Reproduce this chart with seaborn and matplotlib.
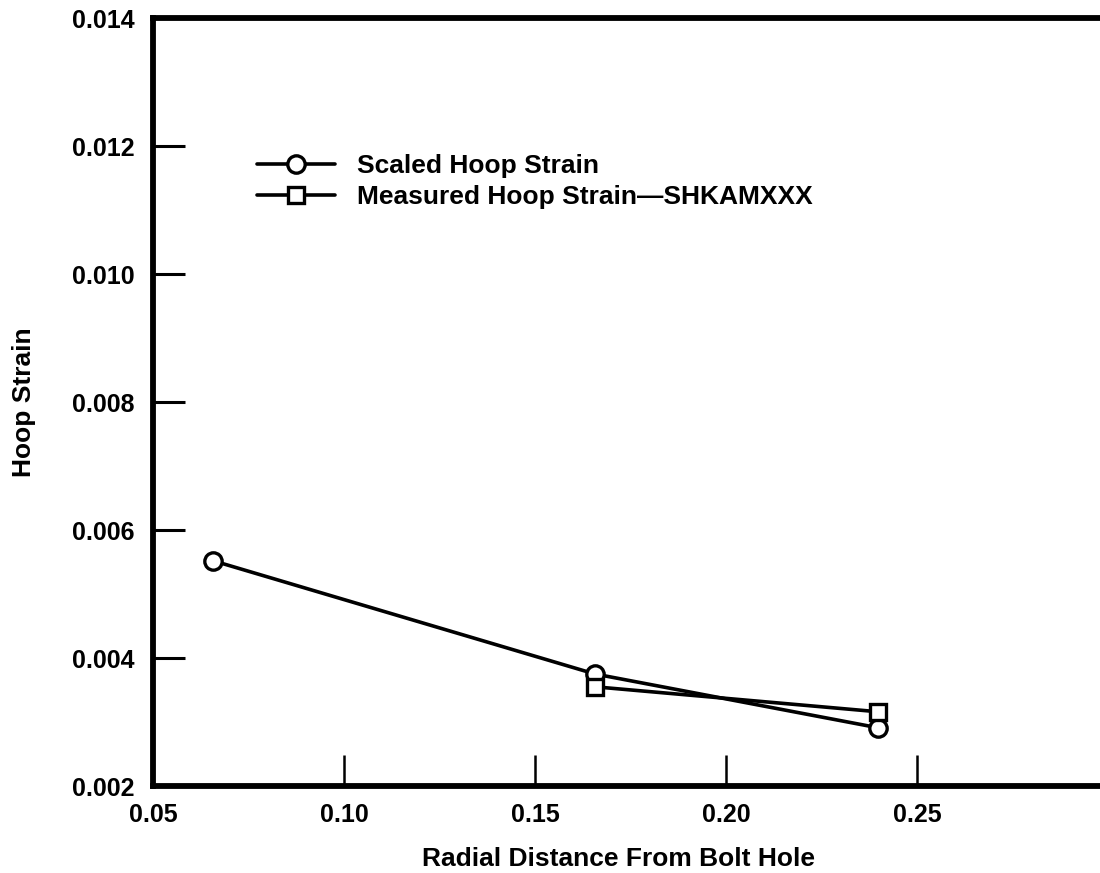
import matplotlib
matplotlib.use("Agg")
import matplotlib.pyplot as plt
import seaborn as sns
import pandas as pd

# ---- data ----
scaled_x = [0.0657, 0.1657, 0.2398]
scaled_y = [0.00552, 0.00375, 0.00291]
measured_x = [0.1657, 0.2398]
measured_y = [0.00355, 0.00316]
series_labels = ["Scaled Hoop Strain", "Measured Hoop Strain\u2014SHKAMXXX"]
x_ticks = [0.05, 0.10, 0.15, 0.20, 0.25]
y_ticks = [0.002, 0.004, 0.006, 0.008, 0.010, 0.012, 0.014]
x_label = "Radial Distance From Bolt Hole"
y_label = "Hoop Strain"

sns.set_style("ticks")
plt.rcParams["font.family"] = ["Liberation Sans", "DejaVu Sans"]
plt.rcParams["font.weight"] = "bold"
plt.rcParams["text.color"] = "black"
plt.rcParams["axes.labelcolor"] = "black"

W, H = 1100, 873
fig = plt.figure(figsize=(W / 100, H / 100), dpi=100)
left, right, top, bottom = 153, 1108, 18, 786
ax = fig.add_axes([left / W, 1 - bottom / H, (right - left) / W, (bottom - top) / H])

common = dict(color="black", linewidth=2.6, markerfacecolor="white",
              markeredgecolor="black", markeredgewidth=2.4, ax=ax)
df1 = pd.DataFrame({"x": scaled_x, "y": scaled_y})
df2 = pd.DataFrame({"x": measured_x, "y": measured_y})
sns.lineplot(data=df1, x="x", y="y", marker="o", markersize=12.5,
             label=series_labels[0], **common)
sns.lineplot(data=df2, x="x", y="y", marker="s", markersize=11.5,
             label=series_labels[1], **common)

ax.set_xlim(0.05, 0.30)
ax.set_ylim(0.002, 0.014)
ax.set_xticks(x_ticks)
ax.set_xticklabels([f"{v:.2f}" for v in x_ticks])
ax.set_yticks(y_ticks)
ax.set_yticklabels([f"{v:.3f}" for v in y_ticks])

for s in ["left", "bottom", "top"]:
    ax.spines[s].set_linewidth(4.2)
    ax.spines[s].set_color("black")
ax.spines["right"].set_visible(False)

ax.tick_params(axis="x", direction="in", length=22, width=1.8, pad=12,
               labelsize=18, colors="black")
ax.tick_params(axis="y", direction="in", length=23, width=2.2, pad=13,
               labelsize=18, colors="black")
for lab in ax.get_xticklabels() + ax.get_yticklabels():
    lab.set_fontweight("bold")

ax.set_xlabel(x_label, fontsize=19, fontweight="bold", color="black")
ax.set_ylabel(y_label, fontsize=19, fontweight="bold", color="black")
ax.xaxis.set_label_coords(0.487, -0.079)
ax.yaxis.set_label_coords(-0.123, 0.5)

leg = ax.legend(loc="upper left", bbox_to_anchor=(257 / W, 1 - 154 / H),
                bbox_transform=fig.transFigure, frameon=False, fontsize=19,
                handlelength=2.95, handletextpad=0.85, labelspacing=0.26,
                borderpad=0, borderaxespad=0)
for t in leg.get_texts():
    t.set_fontweight("bold")
    t.set_color("black")

fig.savefig("out.png", dpi=100)
